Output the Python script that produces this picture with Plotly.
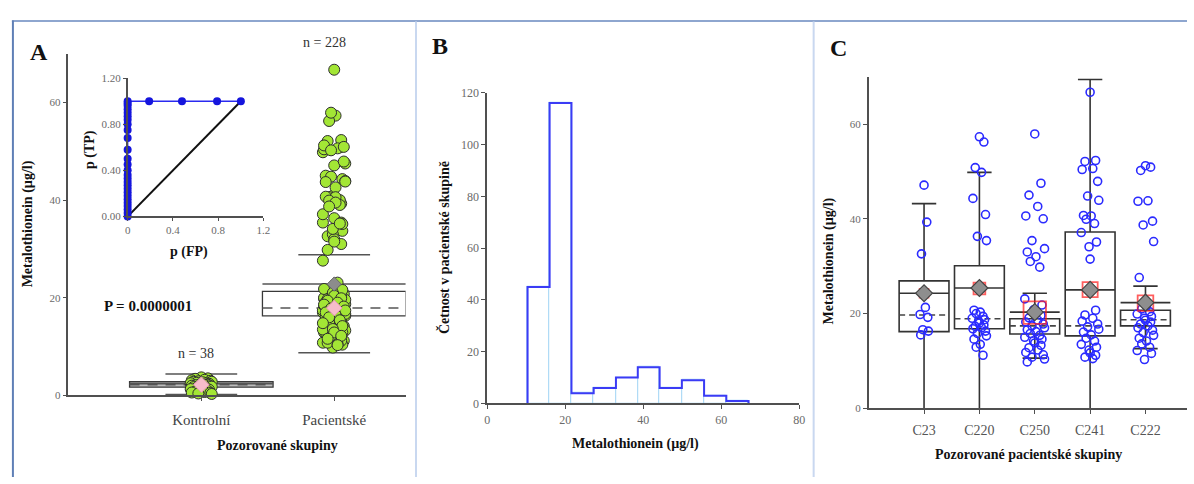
import plotly.graph_objects as go

W, H = 1194, 484
SERIF = "Liberation Serif, Times New Roman, DejaVu Serif, serif"

# ---------------- DATA ----------------
# Panel A: groups
groups_A = ["Kontrolní", "Pacientské"]
kontrol_vals = [3.7, 3.5, 3.4, 3.2, 3.1, 3.0, 2.9, 2.8, 2.8, 2.7, 2.6, 2.5, 2.5, 2.4,
                2.3, 2.3, 2.2, 2.1, 2.1, 2.0, 1.9, 1.8, 1.8, 1.7, 1.6, 1.5, 1.4, 1.3,
                1.2, 1.1, 1.0, 0.9, 0.8, 0.7, 0.6, 0.5, 0.4, 0.3]

# Panel C: patient sub-groups
c_groups = ["C23", "C220", "C250", "C241", "C222"]
c23 = [47.1, 39.3, 32.6, 21.3, 19.8, 19.2, 16.6, 16.3, 15.5]
c220 = [57.3, 56.2, 50.8, 49.8, 44.3, 40.9, 36.3, 35.4, 20.7, 20.3, 20.0, 19.4, 19.0,
        18.7, 18.4, 18.0, 17.6, 17.3, 17.0, 16.8, 16.3, 15.8, 15.3, 14.6, 13.5, 12.9, 11.2]
c250 = [57.9, 47.5, 45.0, 42.6, 40.6, 40.0, 35.4, 33.7, 33.0, 32.0, 31.0, 29.8, 23.1,
        21.8, 20.8, 20.2, 19.6, 19.1, 18.6, 18.2, 17.8, 17.4, 17.0, 16.6, 16.2, 15.8,
        15.4, 15.0, 14.6, 14.2, 13.8, 13.3, 12.8, 12.3, 11.8, 11.3, 10.8, 10.4, 9.8]
c241 = [66.7, 52.3, 52.1, 50.6, 50.4, 47.9, 44.8, 43.9, 40.7, 40.6, 39.9, 39.0, 37.1,
        35.1, 34.1, 31.5, 20.7, 19.7, 19.0, 18.4, 17.8, 17.2, 16.7, 16.1, 15.5, 14.8,
        14.2, 13.5, 12.9, 12.3, 11.7, 11.2, 10.8, 10.5]
c222 = [51.2, 50.9, 50.2, 43.8, 43.7, 39.5, 38.7, 35.2, 27.6, 21.6, 21.0, 20.4, 19.9,
        19.4, 19.0, 18.6, 18.2, 17.8, 17.4, 17.0, 16.5, 16.0, 15.4, 14.8, 14.2, 13.6,
        12.9, 12.2, 11.6, 10.3]
c_values = [c23, c220, c250, c241, c222]
patient_vals = c23 + c220 + c250 + c241 + c222

# Panel A box statistics
A_q1 = [1.7, 16.3]
A_q3 = [2.8, 21.3]
A_median = [2.2, 17.9]
A_mean = [2.4, 22.8]
A_whisk_hi = [4.4, 28.8]
A_whisk_lo = [0.2, 8.75]
A_n_labels = ["n = 38", "n = 228"]

# ROC inset
roc_fp = [0, 0, 0, 0, 0, 0, 0, 0, 0, 0, 0, 0, 0, 0, 0, 0, 0, 0, 0, 0, 0, 0, 0, 0, 0, 0, 0,
          0.19, 0.48, 0.79, 1.0]
roc_tp = [0, 0.03, 0.06, 0.09, 0.12, 0.15, 0.18, 0.21, 0.24, 0.27, 0.30, 0.33, 0.36, 0.40,
          0.45, 0.50, 0.58, 0.68, 0.75, 0.80, 0.84, 0.87, 0.90, 0.93, 0.96, 0.98, 1.0,
          1.0, 1.0, 1.0, 1.0]
diag_x = [0, 1]
diag_y = [0, 1]

# Panel B histogram
hist_edges = [10.35, 16.0, 21.6, 27.3, 33.0, 38.6, 44.2, 49.9, 55.6, 61.3, 67.0]
hist_counts = [45, 116, 4, 6, 10, 14, 6, 9, 3, 1]

# Panel C box statistics
C_q1 = [16.2, 16.8, 15.7, 15.3, 17.4]
C_q3 = [26.9, 30.1, 18.9, 37.2, 20.7]
C_median = [19.7, 18.9, 17.4, 17.4, 18.7]
C_mean = [24.3, 25.4, 20.3, 25.0, 22.3]
C_whisk_hi = [43.2, 49.8, 24.3, 69.4, 25.8]
C_whisk_lo = [0, 0, 10.6, 0, 12.6]
C_se_lo = [23.4, 24.1, 17.9, 23.5, 20.6]
C_se_hi = [25.2, 26.5, 22.5, 26.6, 23.8]

# ---------------- LAYOUT HELPERS ----------------
def dx(p0, p1):
    return [p0 / W, p1 / W]

def dy(top, bottom):
    return [1 - bottom / H, 1 - top / H]

def px(x):
    return x / W

def py(y):
    return 1 - y / H

JIT = [0.0, 0.62, -0.58, 0.3, -0.9, 0.85, -0.28, 0.98, -0.75, 0.12, -0.45, 0.5, -1.0, 0.72, -0.12]

def jitter(vals, center, spread):
    return [center + spread * JIT[i % len(JIT)] for i in range(len(vals))]

fig = go.Figure()
shapes = []
annotations = []

AX = "#505050"
TICKC = "#6a6a6a"

def ann(text, x, y, size, color="#111", angle=0, bold=False):
    t = "<b>%s</b>" % text if bold else text
    annotations.append(dict(text=t, x=px(x), y=py(y), xref="paper", yref="paper",
                            showarrow=False, textangle=angle, xanchor="center", yanchor="middle",
                            font=dict(family=SERIF, size=size, color=color)))

def line(xref, yref, x0, y0, x1, y1, color, width, dash="solid", layer="below"):
    shapes.append(dict(type="line", xref=xref, yref=yref, x0=x0, y0=y0, x1=x1, y1=y1,
                       line=dict(color=color, width=width, dash=dash), layer=layer))

# ---------------- PANEL A ----------------
A_box_half = 0.54
A_cap_half = 0.27
A_fill = ["#bdbdbd", "rgba(0,0,0,0)"]
for i in range(len(groups_A)):
    xc = i + 1
    shapes.append(dict(type="rect", xref="x", yref="y", x0=xc - A_box_half, x1=xc + A_box_half,
                       y0=A_q1[i], y1=A_q3[i], fillcolor=A_fill[i],
                       line=dict(color="#3a3a3a", width=1.3), layer="below"))
    line("x", "y", xc - A_box_half, A_median[i], xc + A_box_half, A_median[i], "#555", 1.5, "10px,8px")
    line("x", "y", xc - A_box_half, A_mean[i], xc + A_box_half, A_mean[i], "#555", 1.5)
    line("x", "y", xc - A_cap_half, A_whisk_hi[i], xc + A_cap_half, A_whisk_hi[i], "#555", 1.5)
    line("x", "y", xc - A_cap_half, A_whisk_lo[i], xc + A_cap_half, A_whisk_lo[i], "#555", 1.5)

green_marker = dict(size=11, color="#a3e635", line=dict(color="#2e2e2e", width=1))
fig.add_trace(go.Scatter(x=jitter(kontrol_vals, 1, 0.08), y=kontrol_vals, mode="markers",
                         marker=green_marker, xaxis="x", yaxis="y", cliponaxis=False,
                         showlegend=False))
fig.add_trace(go.Scatter(x=jitter(patient_vals, 2, 0.085), y=patient_vals, mode="markers",
                         marker=green_marker, xaxis="x", yaxis="y", cliponaxis=False,
                         showlegend=False))
fig.add_trace(go.Scatter(x=[2], y=A_mean[1:], mode="markers",
                         marker=dict(symbol="diamond", size=11, color="#8c8c8c",
                                     line=dict(color="#666", width=1)),
                         xaxis="x", yaxis="y", showlegend=False))
fig.add_trace(go.Scatter(x=[1, 2], y=A_median, mode="markers",
                         marker=dict(symbol="diamond", size=12, color="#f6bccb",
                                     line=dict(color="#e59ab0", width=1)),
                         xaxis="x", yaxis="y", cliponaxis=False, showlegend=False))

# ROC inset
fig.add_trace(go.Scatter(x=diag_x, y=diag_y, mode="lines", line=dict(color="#111", width=2),
                         xaxis="x2", yaxis="y2", showlegend=False))
fig.add_trace(go.Scatter(x=roc_fp, y=roc_tp, mode="lines+markers",
                         line=dict(color="#2a2af0", width=1.5),
                         marker=dict(size=8, color="#1515dd"),
                         xaxis="x2", yaxis="y2", cliponaxis=False, showlegend=False))

# ---------------- PANEL B ----------------
centers = [(hist_edges[i] + hist_edges[i + 1]) / 2 for i in range(len(hist_counts))]
widths = [hist_edges[i + 1] - hist_edges[i] for i in range(len(hist_counts))]
fig.add_trace(go.Bar(x=centers, y=hist_counts, width=widths,
                     marker=dict(color="white", line=dict(color="#a9d7f5", width=1)),
                     xaxis="x3", yaxis="y3", showlegend=False))
step_x = [hist_edges[0]] + hist_edges[:-1] + [hist_edges[-1]]
step_y = [0] + hist_counts + [0]
fig.add_trace(go.Scatter(x=step_x, y=step_y, mode="lines", line_shape="hv",
                         line=dict(color="#3b3bf5", width=2),
                         xaxis="x3", yaxis="y3", showlegend=False))

# ---------------- PANEL C ----------------
C_box_half = 0.45
C_cap_half = 0.22
for i in range(len(c_groups)):
    xc = i + 1
    shapes.append(dict(type="rect", xref="x4", yref="y4", x0=xc - C_box_half, x1=xc + C_box_half,
                       y0=C_q1[i], y1=C_q3[i], fillcolor="rgba(0,0,0,0)",
                       line=dict(color="#333", width=1.6), layer="below"))
    line("x4", "y4", xc - C_box_half, C_median[i], xc + C_box_half, C_median[i], "#444", 1.6, "6px,4px")
    line("x4", "y4", xc - C_box_half, C_mean[i], xc + C_box_half, C_mean[i], "#333", 1.6)
    line("x4", "y4", xc, C_q3[i], xc, C_whisk_hi[i], "#333", 1.6)
    line("x4", "y4", xc, C_q1[i], xc, C_whisk_lo[i], "#333", 1.6)
    line("x4", "y4", xc - C_cap_half, C_whisk_hi[i], xc + C_cap_half, C_whisk_hi[i], "#333", 1.6)
    if C_whisk_lo[i] > 0:
        line("x4", "y4", xc - C_cap_half, C_whisk_lo[i], xc + C_cap_half, C_whisk_lo[i], "#333", 1.6)

C_spreads = [0.08, 0.13, 0.18, 0.16, 0.15]
for i, vals in enumerate(c_values):
    fig.add_trace(go.Scatter(x=jitter(vals, i + 1, C_spreads[i]), y=vals, mode="markers",
                             marker=dict(symbol="circle-open", size=8, color="#2b2bff",
                                         line=dict(width=1.6)),
                             xaxis="x4", yaxis="y4", showlegend=False))

C_px_per_unit = (413.3 - 71.7) / 70.0
fig.add_trace(go.Scatter(x=list(range(1, len(c_groups) + 1)),
                         y=[(a + b) / 2 for a, b in zip(C_se_lo, C_se_hi)], mode="markers",
                         marker=dict(symbol="square-open",
                                     size=[(b - a) * C_px_per_unit for a, b in zip(C_se_lo, C_se_hi)],
                                     color="#ff1a1a", line=dict(width=1.8)),
                         xaxis="x4", yaxis="y4", showlegend=False))
fig.add_trace(go.Scatter(x=list(range(1, len(c_groups) + 1)), y=C_mean, mode="markers",
                         marker=dict(symbol="diamond", size=13, color="#8e8e8e",
                                     line=dict(color="#444", width=1.2)),
                         xaxis="x4", yaxis="y4", showlegend=False))

# ---------------- FRAME LINES ----------------
shapes.append(dict(type="line", xref="paper", yref="paper", x0=px(9), x1=1, y0=py(14.5), y1=py(14.5),
                   line=dict(color="#8ea6cf", width=2)))
shapes.append(dict(type="line", xref="paper", yref="paper", x0=px(10), x1=px(10), y0=py(14), y1=0,
                   line=dict(color="#5f7fb6", width=2)))
for xv in [416.5, 817.5]:
    shapes.append(dict(type="line", xref="paper", yref="paper", x0=px(xv), x1=px(xv), y0=py(15), y1=0,
                       line=dict(color="#c9d8f0", width=2)))

# ---------------- TEXT ----------------
ann("A", 36, 46, 24, bold=True)
ann("B", 441, 40, 24, bold=True)
ann("C", 843, 42, 24, bold=True)
ann(A_n_labels[1], 324, 37, 14, color="#333")
ann(A_n_labels[0], 195, 357, 14, color="#333")
ann("P = 0.0000001", 146, 308, 15, bold=True)
ann("Metalothionein (µg/l)", 25, 223, 14, angle=-90, bold=True)
ann("Pozorované skupiny", 277, 452, 14, bold=True)
ann("p (TP)", 87, 147, 14, angle=-90, bold=True)
ann("p (FP)", 188, 252, 14, bold=True)
ann("Četnost v pacientské skupině", 445, 248, 14, angle=-90, bold=True)
ann("Metalothionein (µg/l)", 638, 450, 14, bold=True)
ann("Metalothionein (µg/l)", 833, 262, 14, angle=-90, bold=True)
ann("Pozorované pacientské skupiny", 1034, 461, 14, bold=True)

# ---------------- AXES ----------------
base = dict(showline=True, linecolor=AX, linewidth=1.5, showgrid=False, zeroline=False,
            ticks="outside", ticklen=4, tickcolor=AX, tickwidth=1.2,
            tickfont=dict(family=SERIF, size=11, color=TICKC))

fig.update_layout(
    width=W, height=H, margin=dict(l=0, r=0, t=0, b=0),
    paper_bgcolor="white", plot_bgcolor="rgba(0,0,0,0)",
    showlegend=False, bargap=0,
    xaxis=dict(base, domain=dx(66, 406), range=[0, 340 / 134], anchor="y",
               tickvals=[1, 2], ticktext=groups_A, ticklabelstandoff=6,
               tickfont=dict(family=SERIF, size=15, color="#444")),
    yaxis=dict(base, domain=dy(48, 400), range=[0, 70], anchor="x", tickvals=[0, 20, 40, 60]),
    xaxis2=dict(base, domain=dx(125.7, 262.7), range=[0, 1.2], anchor="y2",
                tickvals=[0, 0.4, 0.8, 1.2], ticktext=["0", "0.4", "0.8", "1.2"], ticklen=3),
    yaxis2=dict(base, domain=dy(73.3, 215.7), range=[0, 1.2], anchor="x2",
                tickvals=[0, 0.4, 0.8, 1.2], ticktext=["0.00", "0.40", "0.80", "1.20"], ticklen=3),
    xaxis3=dict(base, domain=dx(488.3, 803), range=[0, 80], anchor="y3",
                tickvals=[0, 20, 40, 60, 80], tickfont=dict(family=SERIF, size=12, color=TICKC)),
    yaxis3=dict(base, domain=dy(88.3, 408.3), range=[0, 120], anchor="x3",
                tickvals=[0, 20, 40, 60, 80, 100, 120], tickfont=dict(family=SERIF, size=12, color=TICKC)),
    xaxis4=dict(base, domain=dx(873, 1194), range=[0, 5.75], anchor="y4",
                tickvals=[1, 2, 3, 4, 5], ticktext=c_groups, ticklabelstandoff=4,
                tickfont=dict(family=SERIF, size=14, color="#555")),
    yaxis4=dict(base, domain=dy(71.7, 413.3), range=[0, 70], anchor="x4", tickvals=[0, 20, 40, 60]),
    shapes=shapes, annotations=annotations,
)

fig.write_html("out.html",
               config={"displayModeBar": False},
               post_script="document.documentElement.style.margin='0';"
                           "document.body.style.margin='0';"
                           "document.body.style.overflow='hidden';")
